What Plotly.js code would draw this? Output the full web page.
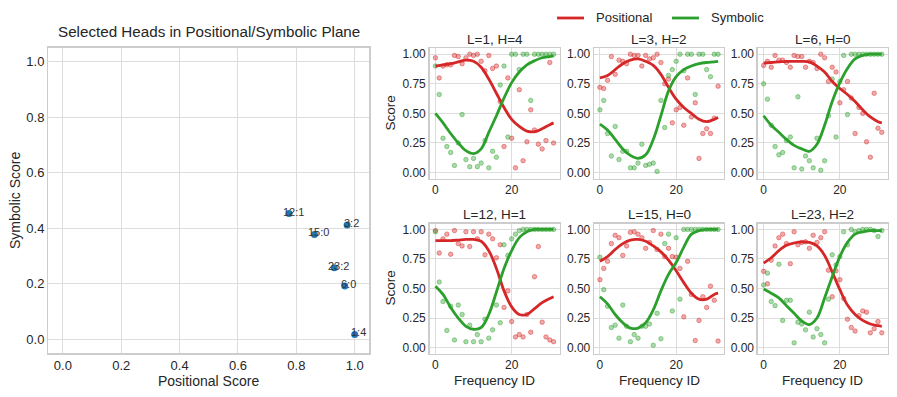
<!DOCTYPE html>
<html>
<head>
<meta charset="utf-8">
<script src="https://cdn.plot.ly/plotly-3.0.1.min.js"></script>
<style>
  html, body { margin: 0; padding: 0; background: #fff; }
  #chart { width: 897px; height: 397px; }
</style>
</head>
<body>
<div id="chart"></div>
<script>
//---------------------------------- DATA ----------------------------------//

// left plot : selected heads (layer:head)
const headLabels = ['1:4', '3:2', '6:0', '12:1', '15:0', '23:2'];
const positionalScore = [1.0, 0.974, 0.966, 0.775, 0.862, 0.930];
const symbolicScore = [0.018, 0.412, 0.192, 0.453, 0.378, 0.258];

// small plots : score per frequency id
const freqIds = [0, 1, 2, 3, 4, 5, 6, 7, 8, 9, 10, 11, 12, 13, 14, 15,
                 16, 17, 18, 19, 20, 21, 22, 23, 24, 25, 26, 27, 28, 29, 30, 31];
const curveIds = [0, 2, 4, 6, 8, 10, 12, 14, 16, 18, 20, 22, 24, 26, 28, 30, 31];

const panelTitles = ['L=1, H=4', 'L=3, H=2', 'L=6, H=0', 'L=12, H=1', 'L=15, H=0', 'L=23, H=2'];
const seriesNames = ['Positional', 'Symbolic'];

const posL1H4 = [0.97, 0.80, 0.90, 0.91, 0.91, 0.99, 0.98, 0.92, 0.97, 1.00, 0.99, 1.00, 0.94, 0.86, 0.99, 0.88,
                 0.90, 0.60, 0.22, 0.80, 0.29, 0.04, 0.70, 0.10, 0.26, 0.53, 0.36, 0.24, 0.20, 0.27, 0.93, 0.25];
const symL1H4 = [0.90, 0.66, 0.29, 0.22, 0.17, 0.06, 0.25, 0.49, 0.11, 0.05, 0.12, 0.05, 0.08, 0.27, 0.04, 0.18,
                 0.13, 0.74, 0.90, 0.30, 1.00, 1.00, 0.87, 1.00, 1.00, 0.61, 1.00, 1.00, 1.00, 1.00, 1.00, 1.00];
const posCurveL1H4 = [0.90, 0.91, 0.92, 0.935, 0.95, 0.94, 0.89, 0.79, 0.67, 0.55, 0.45, 0.39, 0.35, 0.345, 0.37, 0.405, 0.42];
const symCurveL1H4 = [0.50, 0.42, 0.33, 0.25, 0.185, 0.16, 0.20, 0.34, 0.48, 0.63, 0.76, 0.85, 0.91, 0.945, 0.97, 0.98, 0.985];

const posL3H2 = [0.72, 0.71, 0.78, 0.98, 0.83, 0.95, 0.94, 0.92, 1.00, 0.99, 0.99, 0.90, 0.99, 0.96, 0.97, 1.00,
                 0.93, 0.75, 0.79, 0.42, 0.53, 0.55, 0.40, 0.80, 0.47, 0.59, 0.12, 0.33, 0.37, 0.33, 0.46, 0.73];
const symL3H2 = [0.53, 0.61, 0.33, 0.14, 0.39, 0.11, 0.18, 0.18, 0.04, 0.04, 0.08, 0.24, 0.06, 0.07, 0.08, 0.01,
                 0.61, 0.38, 0.82, 0.87, 0.94, 1.00, 0.86, 1.00, 1.00, 0.66, 1.00, 1.00, 0.87, 0.81, 1.00, 1.00];
const posCurveL3H2 = [0.80, 0.82, 0.87, 0.92, 0.95, 0.96, 0.94, 0.905, 0.83, 0.72, 0.62, 0.55, 0.50, 0.45, 0.43, 0.45, 0.465];
const symCurveL3H2 = [0.41, 0.36, 0.28, 0.20, 0.145, 0.12, 0.15, 0.28, 0.48, 0.69, 0.81, 0.87, 0.90, 0.92, 0.93, 0.935, 0.94];

const posL6H0 = [0.905, 0.94, 0.89, 0.99, 0.95, 0.95, 0.93, 0.89, 0.99, 0.98, 0.98, 0.89, 0.94, 0.93, 0.88, 1.00,
                 0.97, 0.77, 0.89, 0.85, 0.59, 0.70, 0.77, 0.63, 0.33, 0.55, 0.50, 0.26, 0.13, 0.67, 0.375, 0.34];
const symL6H0 = [0.75, 0.62, 0.40, 0.22, 0.15, 0.17, 0.27, 0.30, 0.04, 0.64, 0.03, 0.14, 0.10, 0.04, 0.29, 0.02,
                 0.10, 0.48, 0.79, 0.30, 0.77, 0.99, 0.49, 1.00, 1.00, 1.00, 1.00, 1.00, 1.00, 1.00, 1.00, 1.00];
const posCurveL6H0 = [0.925, 0.93, 0.935, 0.94, 0.94, 0.94, 0.935, 0.90, 0.85, 0.77, 0.71, 0.66, 0.60, 0.53, 0.47, 0.43, 0.42];
const symCurveL6H0 = [0.48, 0.40, 0.34, 0.28, 0.23, 0.20, 0.18, 0.24, 0.40, 0.60, 0.76, 0.88, 0.96, 0.99, 1.00, 1.00, 1.00];

const posL12H1 = [0.99, 0.80, 0.92, 0.96, 0.79, 0.99, 0.88, 0.86, 0.98, 0.855, 0.98, 0.92, 0.98, 0.785, 0.96, 0.92,
                  0.76, 0.87, 0.34, 0.48, 0.22, 0.09, 0.11, 0.09, 0.28, 0.13, 0.60, 0.855, 0.215, 0.09, 0.065, 0.05];
const symL12H1 = [0.98, 0.555, 0.39, 0.145, 0.35, 0.065, 0.36, 0.28, 0.05, 0.19, 0.05, 0.11, 0.05, 0.24, 0.08, 0.15,
                  0.36, 0.21, 0.87, 0.78, 0.92, 0.96, 0.99, 1.00, 1.00, 1.00, 1.00, 1.00, 1.00, 1.00, 1.00, 1.00];
const posCurveL12H1 = [0.905, 0.905, 0.905, 0.91, 0.915, 0.915, 0.90, 0.82, 0.67, 0.48, 0.345, 0.28, 0.28, 0.33, 0.38, 0.415, 0.43];
const symCurveL12H1 = [0.52, 0.45, 0.34, 0.25, 0.18, 0.155, 0.17, 0.28, 0.47, 0.67, 0.82, 0.93, 0.98, 1.00, 1.00, 1.00, 1.00];

const posL15H0 = [0.575, 0.67, 0.73, 0.88, 0.95, 0.93, 0.78, 0.86, 0.975, 0.98, 0.96, 0.93, 0.84, 0.89, 0.99, 0.83,
                  0.96, 0.77, 0.84, 0.77, 0.765, 0.67, 0.26, 0.73, 0.45, 0.06, 0.23, 0.43, 0.34, 0.52, 0.40, 0.055];
const symL15H0 = [0.765, 0.49, 0.35, 0.17, 0.19, 0.08, 0.36, 0.18, 0.05, 0.11, 0.08, 0.18, 0.18, 0.20, 0.02, 0.29,
                  0.075, 0.88, 0.96, 0.31, 0.93, 0.41, 1.00, 1.00, 1.00, 1.00, 1.00, 1.00, 1.00, 1.00, 1.00, 1.00];
const posCurveL15H0 = [0.73, 0.77, 0.83, 0.88, 0.91, 0.915, 0.90, 0.86, 0.81, 0.74, 0.65, 0.55, 0.46, 0.41, 0.41, 0.45, 0.46];
const symCurveL15H0 = [0.43, 0.37, 0.28, 0.21, 0.165, 0.165, 0.21, 0.32, 0.48, 0.62, 0.72, 0.85, 0.96, 0.99, 1.00, 1.00, 1.00];

const posL23H2 = [0.645, 0.54, 0.74, 0.86, 0.93, 0.96, 0.88, 0.71, 0.98, 0.87, 0.89, 0.895, 0.84, 0.95, 0.89, 0.93,
                  0.98, 0.655, 0.43, 0.65, 0.575, 0.415, 0.24, 0.17, 0.14, 0.27, 0.31, 0.30, 0.125, 0.16, 0.22, 0.125];
const symL23H2 = [0.53, 0.63, 0.39, 0.355, 0.705, 0.23, 0.40, 0.40, 0.04, 0.215, 0.20, 0.15, 0.30, 0.09, 0.16, 0.11,
                  0.04, 0.41, 0.785, 0.70, 0.77, 0.98, 0.87, 1.00, 0.98, 0.99, 1.00, 1.00, 1.00, 0.99, 0.94, 0.99];
const posCurveL23H2 = [0.715, 0.76, 0.82, 0.865, 0.885, 0.895, 0.89, 0.86, 0.78, 0.64, 0.49, 0.36, 0.28, 0.23, 0.20, 0.185, 0.18];
const symCurveL23H2 = [0.495, 0.46, 0.42, 0.355, 0.29, 0.225, 0.195, 0.25, 0.42, 0.60, 0.77, 0.89, 0.96, 0.98, 0.99, 0.99, 0.99];

const panelPos = [posL1H4, posL3H2, posL6H0, posL12H1, posL15H0, posL23H2];
const panelSym = [symL1H4, symL3H2, symL6H0, symL12H1, symL15H0, symL23H2];
const panelPosCurve = [posCurveL1H4, posCurveL3H2, posCurveL6H0, posCurveL12H1, posCurveL15H0, posCurveL23H2];
const panelSymCurve = [symCurveL1H4, symCurveL3H2, symCurveL6H0, symCurveL12H1, symCurveL15H0, symCurveL23H2];

//---------------------------------- STYLE ----------------------------------//

const W = 897, H = 397;
const RED = '#d62728', GREEN = '#2ca02c', BLUE = '#1f77b4';
const FONT = 'Liberation Sans, Arial, sans-serif';
const TEXT = '#262626';
const GRID = '#dddddd';
const EDGE = '#cccccc';

// pixel boxes -> paper domains
const px = (a, b) => [a / W, b / W];
const py = (top, bottom) => [1 - bottom / H, 1 - top / H];

const colBoxes = [px(429.5, 559.5), px(594, 724), px(757.7, 887.7)];
const rowBoxes = [[48.3, 178.5], [223.5, 353.5]];

function baseAxis(extra) {
  return Object.assign({
    showline: true, mirror: true, linecolor: EDGE, linewidth: 1.3,
    showgrid: true, gridcolor: GRID, gridwidth: 1,
    zeroline: false, ticks: '', ticklen: 0,
    tickfont: { family: FONT, size: 12, color: TEXT },
    automargin: false, fixedrange: true
  }, extra);
}

function label(x, y, text, size, extra) {
  return Object.assign({
    xref: 'paper', yref: 'paper', x: x / W, y: 1 - y / H, text: text,
    showarrow: false, xanchor: 'center', yanchor: 'middle',
    font: { family: FONT, size: size, color: TEXT }
  }, extra || {});
}

//---------------------------------- TRACES ----------------------------------//

let traces = [];
let layout = {
  width: W, height: H,
  margin: { t: 0, b: 0, l: 0, r: 0 },
  paper_bgcolor: '#fff', plot_bgcolor: '#fff',
  font: { family: FONT, color: TEXT },
  showlegend: false,
  annotations: [],
  shapes: []
};

// left scatter
traces.push({
  type: 'scatter', mode: 'markers', x: positionalScore, y: symbolicScore,
  xaxis: 'x', yaxis: 'y', hoverinfo: 'skip',
  marker: { size: 7, color: BLUE }
});
layout.xaxis = baseAxis({
  domain: px(48.3, 369.3), range: [-0.05, 1.05], dtick: 0.2, tickformat: '.1f', anchor: 'y',
  tickfont: { family: FONT, size: 13, color: TEXT }
});
layout.yaxis = baseAxis({
  domain: py(47.7, 353.3), range: [-0.05, 1.05], dtick: 0.2, tickformat: '.1f', anchor: 'x',
  tickfont: { family: FONT, size: 13, color: TEXT }
});
headLabels.forEach((lab, i) => {
  layout.annotations.push({
    xref: 'x', yref: 'y', x: positionalScore[i], y: symbolicScore[i], text: lab,
    showarrow: false, xshift: 4, yshift: 2,
    font: { family: FONT, size: 11, color: '#333' }
  });
});
layout.annotations.push(
  label(208.8, 31, 'Selected Heads in Positional/Symbolic Plane', 15.2),
  label(208.8, 381, 'Positional Score', 14),
  label(15, 201, 'Symbolic Score', 14, { textangle: -90 })
);

// legend (drawn by hand to match spacing)
[[557, 584, 594, RED], [672, 699, 709, GREEN]].forEach(([x0, x1, tx, c], i) => {
  layout.shapes.push({
    type: 'line', xref: 'paper', yref: 'paper', x0: x0 / W, x1: x1 / W, y0: 1 - 18 / H, y1: 1 - 18 / H,
    line: { color: c, width: 2.8 }
  });
  layout.annotations.push(label(tx, 18, seriesNames[i], 13, { xanchor: 'left' }));
});

// small multiples
panelTitles.forEach((title, p) => {
  const n = p + 2;
  const xa = 'x' + n, ya = 'y' + n;
  const row = Math.floor(p / 3), col = p % 3;
  const rb = rowBoxes[row];

  layout['xaxis' + n] = baseAxis({
    domain: colBoxes[col], range: [-1.55, 32.55], dtick: 20, anchor: ya
  });
  layout['yaxis' + n] = baseAxis({
    domain: py(rb[0], rb[1]), range: [-0.05, 1.05], dtick: 0.25, tickformat: '.2f', anchor: xa
  });

  traces.push({
    type: 'scatter', mode: 'markers', x: freqIds, y: panelPos[p], xaxis: xa, yaxis: ya,
    hoverinfo: 'skip',
    marker: { size: 4.5, color: 'rgba(214,39,40,0.4)', line: { width: 0.8, color: 'rgba(214,39,40,0.55)' } }
  });
  traces.push({
    type: 'scatter', mode: 'markers', x: freqIds, y: panelSym[p], xaxis: xa, yaxis: ya,
    hoverinfo: 'skip',
    marker: { size: 4.5, color: 'rgba(44,160,44,0.4)', line: { width: 0.8, color: 'rgba(44,160,44,0.55)' } }
  });
  traces.push({
    type: 'scatter', mode: 'lines', x: curveIds, y: panelPosCurve[p], xaxis: xa, yaxis: ya,
    name: seriesNames[0], hoverinfo: 'skip',
    line: { color: RED, width: 2.8, shape: 'spline', smoothing: 1 }
  });
  traces.push({
    type: 'scatter', mode: 'lines', x: curveIds, y: panelSymCurve[p], xaxis: xa, yaxis: ya,
    name: seriesNames[1], hoverinfo: 'skip',
    line: { color: GREEN, width: 2.8, shape: 'spline', smoothing: 1 }
  });

  const cb = colBoxes[col];
  const cx = (cb[0] + cb[1]) / 2 * W;
  layout.annotations.push(label(cx, rb[0] - 9, title, 13.5));
  if (col === 0) {
    layout.annotations.push(label(390, (rb[0] + rb[1]) / 2, 'Score', 13.5, { textangle: -90 }));
  }
  if (row === 1) {
    layout.annotations.push(label(cx, 380, 'Frequency ID', 13.5));
  }
});

Plotly.newPlot('chart', traces, layout, { staticPlot: true, displayModeBar: false });
</script>
</body>
</html>
